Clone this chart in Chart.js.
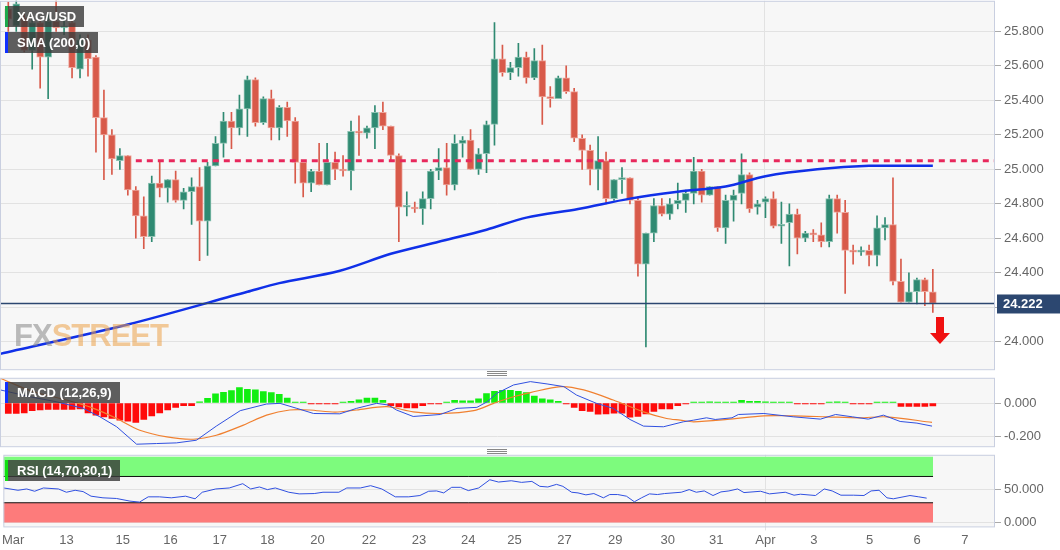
<!DOCTYPE html>
<html><head><meta charset="utf-8">
<script src="https://cdn.jsdelivr.net/npm/chart.js@4.4.1/dist/chart.umd.min.js"></script>
<style>
body{margin:0;background:#fff;width:1060px;height:550px;overflow:hidden;font-family:"Liberation Sans",Arial,sans-serif;position:relative}
.pane{position:absolute;left:0;width:1060px}
.tag{position:absolute;background:rgba(60,60,60,0.82);color:#fff;font-weight:bold;font-size:13px;line-height:21px;padding:0 8px 0 12px;z-index:5}
.tag i{position:absolute;left:0;top:0;bottom:0;width:3px}
.grip{position:absolute;left:487px;width:20px;height:1px;background:#888;z-index:5}
</style></head><body>
<div class="pane" style="top:-10px;height:390px"><canvas id="c1"></canvas></div>
<div class="pane" style="top:367px;height:90px"><canvas id="c2"></canvas></div>
<div class="pane" style="top:444px;height:106px"><canvas id="c3"></canvas></div>
<div class="tag" style="left:5px;top:6px"><i style="background:#1ea84a"></i>XAG/USD</div>
<div class="tag" style="left:5px;top:32px"><i style="background:#1030ff"></i>SMA (200,0)</div>
<div class="tag" style="left:5px;top:382px"><i style="background:#1030ff"></i>MACD (12,26,9)</div>
<div class="tag" style="left:5px;top:460px"><i style="background:#10e010"></i>RSI (14,70,30,1)</div>
<div class="grip" style="top:371px"></div><div class="grip" style="top:373px"></div><div class="grip" style="top:375px"></div>
<div class="grip" style="top:449px"></div><div class="grip" style="top:451px"></div><div class="grip" style="top:453px"></div>
<div style="position:absolute;left:14px;top:318px;font-size:31px;font-weight:bold;letter-spacing:-1px;opacity:0.55;z-index:4"><span style="color:#888">FX</span><span style="color:#eda24a">STREET</span></div>
<svg style="position:absolute;left:929px;top:317px;z-index:5" width="22" height="28"><polygon points="7,0 15,0 15,16 21,16 11,27 1,16 7,16" fill="#f01010"/></svg>
<script>
const opens=[25.93,25.83,25.88,25.69,25.85,25.65,25.86,25.82,25.85,25.58,25.75,25.65,25.30,25.20,25.05,25.08,24.88,24.73,24.61,24.92,24.89,24.94,24.82,24.87,24.90,24.70,25.02,25.15,25.28,25.24,25.35,25.52,25.27,25.41,25.24,25.36,25.28,25.04,24.92,24.99,24.91,25.04,25.00,24.99,25.22,25.21,25.24,25.33,25.25,25.08,24.78,24.78,24.77,24.83,24.99,25.01,24.91,25.15,25.17,25.00,25.09,25.26,25.64,25.56,25.59,25.65,25.53,25.63,25.42,25.41,25.53,25.45,25.18,25.11,25.00,25.05,24.83,24.94,24.95,24.82,24.45,24.63,24.79,24.74,24.80,24.82,24.86,24.99,24.85,24.90,24.66,24.82,24.86,24.97,24.78,24.81,24.83,24.67,24.69,24.74,24.60,24.63,24.62,24.58,24.83,24.75,24.53,24.52,24.53,24.50,24.66,24.68,24.35,24.23,24.29,24.36,24.29];
const highs=[25.97,25.99,25.90,25.87,25.87,25.90,26.00,25.88,25.87,25.78,25.78,25.66,25.46,25.23,25.12,25.08,24.90,24.84,24.96,25.05,24.94,24.99,24.89,24.95,25.01,25.04,25.19,25.33,25.33,25.43,25.54,25.53,25.42,25.46,25.37,25.39,25.30,25.05,25.00,25.15,25.15,25.10,25.08,25.28,25.31,25.25,25.37,25.39,25.25,25.09,24.87,24.81,24.87,25.00,25.12,25.15,25.20,25.19,25.23,25.12,25.28,25.85,25.72,25.62,25.73,25.68,25.70,25.72,25.48,25.54,25.60,25.47,25.20,25.14,25.19,25.10,24.94,25.01,24.95,24.84,24.63,24.83,24.83,24.83,24.92,24.88,25.07,25.00,24.90,24.90,24.85,24.88,25.09,24.98,24.82,24.84,24.87,24.81,24.80,24.77,24.64,24.65,24.69,24.85,24.85,24.82,24.56,24.55,24.56,24.73,24.72,24.95,24.48,24.40,24.37,24.37,24.42];
const lows=[25.80,25.80,25.68,25.58,25.47,25.41,25.80,25.78,25.53,25.53,25.54,25.10,24.94,24.97,25.00,24.85,24.60,24.54,24.58,24.84,24.81,24.81,24.77,24.68,24.47,24.50,25.02,25.07,25.12,25.20,25.19,25.25,25.26,25.17,25.17,25.19,24.92,24.84,24.87,24.91,24.91,24.94,24.96,24.88,25.08,25.18,25.12,25.23,25.05,24.58,24.73,24.75,24.68,24.77,24.94,24.85,24.88,25.07,25.00,24.97,24.98,25.14,25.54,25.52,25.54,25.50,25.52,25.26,25.36,25.41,25.44,25.16,25.00,24.91,24.88,24.80,24.82,24.86,24.80,24.38,23.97,24.58,24.73,24.71,24.77,24.75,24.80,24.81,24.85,24.64,24.57,24.70,24.80,24.75,24.74,24.72,24.66,24.57,24.44,24.51,24.58,24.58,24.55,24.55,24.63,24.28,24.45,24.50,24.44,24.44,24.59,24.33,24.23,24.23,24.22,24.21,24.17];
const closes=[25.87,25.96,25.69,25.85,25.65,25.86,25.82,25.83,25.59,25.75,25.64,25.30,25.20,25.06,25.08,24.88,24.73,24.61,24.92,24.89,24.94,24.82,24.87,24.90,24.70,25.02,25.15,25.28,25.24,25.35,25.52,25.27,25.41,25.24,25.36,25.28,25.04,24.92,24.99,24.91,25.04,25.00,24.99,25.22,25.21,25.24,25.33,25.25,25.08,24.78,24.785,24.77,24.83,24.99,25.01,24.91,25.15,25.17,25.00,25.09,25.26,25.64,25.56,25.59,25.65,25.53,25.63,25.42,25.41,25.53,25.45,25.18,25.11,25.00,25.05,24.83,24.94,24.95,24.82,24.45,24.63,24.79,24.74,24.80,24.82,24.86,24.99,24.85,24.90,24.66,24.82,24.85,24.97,24.77,24.80,24.83,24.67,24.68,24.74,24.60,24.63,24.62,24.58,24.83,24.75,24.53,24.52,24.53,24.50,24.66,24.68,24.35,24.23,24.29,24.36,24.29,24.222];
const smaIdx=[-1,15,30,34,41.5,48,54,60,65,71.5,78,84,90,95,101.5,108,116];
const smaVal=[23.93,24.10,24.29,24.34,24.41,24.51,24.58,24.65,24.72,24.77,24.83,24.87,24.90,24.96,25.00,25.02,25.02];
const resistance=25.05, resistanceStart=16;
const lastPrice=24.222;
const hist=[-0.063,-0.063,-0.059,-0.046,-0.042,-0.038,-0.038,-0.038,-0.038,-0.036,-0.059,-0.073,-0.083,-0.093,-0.103,-0.109,-0.117,-0.099,-0.077,-0.059,-0.042,-0.026,-0.016,-0.016,0.008,0.028,0.055,0.065,0.075,0.093,0.083,0.079,0.069,0.063,0.053,0.030,0.004,0.002,-0.006,-0.006,-0.006,-0.006,0.004,0.01,0.02,0.03,0.03,0.016,-0.016,-0.024,-0.03,-0.03,-0.016,-0.006,-0.006,0.006,0.016,0.014,0.014,0.026,0.057,0.071,0.077,0.077,0.071,0.063,0.042,0.026,0.02,0.01,-0.006,-0.026,-0.046,-0.05,-0.067,-0.065,-0.061,-0.061,-0.085,-0.081,-0.065,-0.05,-0.036,-0.036,-0.016,-0.006,0.002,0.002,0.008,0.002,0.002,0.006,0.016,0.01,0.01,0.008,0.004,0.002,0.002,-0.004,-0.004,-0.006,-0.006,0.004,0.008,0.004,-0.004,-0.006,-0.006,0.002,0.006,0.002,-0.02,-0.02,-0.02,-0.02,-0.018];
const macdIdx=[-1,2.7,6,9.4,11.5,13.6,16.1,18.6,21.1,23.6,26.1,29.1,32.4,34.1,36.2,38.3,41.6,43.7,46.2,47.7,48.7,50.8,54.2,56.3,58.8,60.1,61.3,63.4,65.5,67.6,69.7,71.3,73.8,75.9,78,79.7,82.2,84.7,86,87.6,88.7,90.8,91.6,94.8,98.5,101.9,103.8,105.9,107.9,109.8,111.9,114,115.9];
const macdVal=[0.079,0.038,0.008,-0.032,-0.083,-0.143,-0.248,-0.244,-0.240,-0.224,-0.139,-0.046,-0.006,-0.002,-0.032,-0.063,-0.065,-0.032,-0.002,-0.012,-0.042,-0.081,-0.069,-0.032,-0.026,0.008,0.059,0.109,0.129,0.115,0.099,0.048,-0.002,-0.032,-0.099,-0.139,-0.143,-0.113,-0.103,-0.089,-0.099,-0.089,-0.069,-0.063,-0.083,-0.097,-0.069,-0.083,-0.097,-0.073,-0.111,-0.121,-0.139];
const sigIdx=[-1,3.1,7.3,10.7,13.6,16.5,19.9,23.2,26.1,29.5,32.4,35.3,37.8,41,43.7,47.5,50.8,54.2,58.4,60.9,63.4,65.5,69.3,72.2,75.9,79.7,82.6,84.3,86,90.2,94.8,98.5,102.7,106.8,110.2,115.9];
const sigVal=[0.149,0.069,0.018,-0.032,-0.093,-0.164,-0.204,-0.218,-0.194,-0.133,-0.073,-0.042,-0.042,-0.055,-0.042,-0.022,-0.053,-0.063,-0.046,-0.002,0.038,0.063,0.099,0.079,0.018,-0.053,-0.093,-0.103,-0.113,-0.099,-0.077,-0.077,-0.083,-0.089,-0.083,-0.117];
const rsiIdx=[-1,-0.2,0.8,1.9,2.9,4,5.9,6.9,8,9,10,11.5,13.2,14.9,16.1,17.2,18.6,20.1,21.9,23.1,24,25.7,27.4,29.1,30.1,31.2,32.2,33.2,34.9,36.2,38.1,39.2,41.2,42.2,43.9,45.2,46.6,48.3,50,51.4,52.5,53.5,54.4,55.4,56.5,57.5,58.8,60.2,61.3,62.9,64.2,65.5,66.5,67.5,68.6,69.4,70.5,71.3,72.3,73.3,74.5,75.3,76.3,77.4,78.4,79.3,80.3,81.3,82.2,84.3,85.3,86.2,87.2,88.3,89.3,90.3,91.4,92.2,94.3,95.4,97.4,98.5,99.3,101.2,102.3,103.3,104.4,106,107.3,108.2,109.2,110.2,111,113.1,114.2,115.2];
const rsiVal=[52.5,51,49,51,47.5,52.5,51,46,49,47,40,37.5,36.5,32.5,31,39,39,37.5,40,36,46,51,52.5,59,51,54,50,52.5,46,43.5,44,46,46,52.5,52.5,56,51,39,39,41,47.5,48,45,53.5,53.5,48.5,52.5,65,61.5,63.5,61,62.5,55,54,58,55,46,45,42,44,37.5,42.5,42.5,40,31.5,37.5,43.5,42.5,44,46,50,46,48,41,46.5,48,51,45.5,47.5,43.5,46,41.5,43,41,51,48,41.5,41.5,41,48,49,37.5,36,41,39,37];
const dayPos=[0.2,6.9,14,20,26.2,32.2,38.5,45,51.3,57.5,63.3,69.6,76,82.6,88.7,94.9,101,108,114,120];
const dayLbl=['Mar','13','15','16','17','18','20','22','23','24','25','27','29','30','31','Apr','3','5','6','7'];
const XMIN=-1.04, XMAX=123.8, LASTI=116;

const GREEN='#2f8a72', RED='#d85a4a', GRID='#e2e2e2', FRAME='#c9cfe0';
const idx=opens.map((_,i)=>i);
const up=idx.map(i=>closes[i]>=opens[i]);
const frame={id:'frame',beforeDraw(c){const a=c.chartArea,x=c.ctx;x.save();x.fillStyle='#f7f7f7';x.fillRect(a.left,a.top,a.right-a.left,a.bottom-a.top);x.restore();},
 afterDraw(c){const a=c.chartArea,x=c.ctx;x.save();x.strokeStyle=FRAME;x.lineWidth=1;x.strokeRect(a.left+0.5,a.top+0.5,a.right-a.left-1,a.bottom-a.top);x.restore();}};
function xAxis(labels){return {type:'linear',min:XMIN,max:XMAX,offset:false,
  afterBuildTicks(s){s.ticks=dayPos.map(v=>({value:v}));},
  grid:{offset:false,drawTicks:!!labels,tickLength:4,color:(ctx)=>ctx.tick&&ctx.tick.value===94.9?GRID:'rgba(0,0,0,0)'},
  border:{display:false},
  ticks:{display:!!labels,autoSkip:false,maxRotation:0,color:'#666',font:{family:'Liberation Sans',size:13},padding:2,
    callback:(v)=>{const k=dayPos.indexOf(v);return k>=0?dayLbl[k]:'';}}};}
function yAxis(min,max,ticks,fmt){return {position:'right',min,max,
  afterBuildTicks(s){s.ticks=ticks.map(v=>({value:v}));},
  afterFit(s){s.width=65;},
  grid:{color:GRID,tickLength:6,tickColor:'#aaa'},border:{display:false},
  ticks:{color:'#666',font:{family:'Liberation Sans',size:13},padding:3,callback:fmt}};}
const baseOpts={responsive:true,maintainAspectRatio:false,animation:false,plugins:{legend:{display:false},tooltip:{enabled:false}}};

const priceTicks=[24.0,24.2,24.4,24.6,24.8,25.0,25.2,25.4,25.6,25.8];
const priceTag={id:'ptag',afterDraw(c){const y=c.scales.y.getPixelForValue(lastPrice),x=c.ctx,l=c.chartArea.right+2;
 x.save();x.fillStyle='#2c4770';x.fillRect(l,y-9,64,19);x.fillStyle='#fff';x.font='bold 13px "Liberation Sans"';x.textBaseline='middle';x.fillText(lastPrice.toFixed(3),l+6,y+1);x.restore();}};
new Chart(document.getElementById('c1'),{type:'bar',
 data:{datasets:[
  {type:'line',data:[{x:XMIN,y:lastPrice},{x:XMAX,y:lastPrice}],borderColor:'#2c4770',borderWidth:1.3,pointRadius:0,order:0},
  {type:'line',data:[{x:resistanceStart,y:resistance},{x:XMAX,y:resistance}],borderColor:'#e8285c',borderWidth:3,borderDash:[6,5],pointRadius:0,order:1},
  {type:'line',data:smaIdx.map((v,i)=>({x:v,y:smaVal[i]})),borderColor:'#1030e8',borderWidth:2.5,pointRadius:0,tension:0.3,order:1},
  {data:idx.map(i=>({x:i,y:[Math.min(opens[i],closes[i]),Math.max(opens[i],closes[i])]})),backgroundColor:idx.map(i=>up[i]?GREEN:RED),
   borderColor:idx.map(i=>up[i]?'#8cc2b2':'#eea69c'),borderWidth:1,borderSkipped:false,barThickness:7,minBarLength:2,grouped:false,order:2},
  {data:idx.map(i=>({x:i,y:[lows[i],highs[i]]})),backgroundColor:idx.map(i=>up[i]?GREEN:RED),barThickness:1,grouped:false,order:3}
 ]},
 options:{...baseOpts,layout:{padding:{top:2,bottom:2}},scales:{x:xAxis(false),y:yAxis(23.841,25.977,priceTicks,v=>v.toFixed(3))}},
 plugins:[frame,priceTag]});

new Chart(document.getElementById('c2'),{type:'bar',
 data:{datasets:[
  {type:'line',data:macdIdx.map((v,i)=>({x:v,y:macdVal[i]})),borderColor:'#3050e0',borderWidth:1,pointRadius:0,order:0},
  {type:'line',data:sigIdx.map((v,i)=>({x:v,y:sigVal[i]})),borderColor:'#f08030',borderWidth:1.2,pointRadius:0,tension:0.3,order:1},
  {data:hist.map((v,i)=>({x:i,y:v})),backgroundColor:hist.map(v=>v>=0?'#11ee11':'#ff0a0a'),barThickness:6,minBarLength:1,order:2}
 ]},
 options:{...baseOpts,layout:{padding:{top:2,bottom:2}},scales:{x:xAxis(false),y:yAxis(-0.26,0.152,[-0.2,0],v=>v.toFixed(3))}},
 plugins:[frame]});

new Chart(document.getElementById('c3'),{type:'line',
 data:{datasets:[
  {data:rsiIdx.map((v,i)=>({x:v,y:rsiVal[i]})),borderColor:'#3050e0',borderWidth:1,pointRadius:0,order:0},
  {data:[{x:XMIN,y:100},{x:LASTI,y:100}],borderColor:'rgba(0,0,0,0)',pointRadius:0,fill:false,order:5},
  {data:[{x:XMIN,y:70},{x:LASTI,y:70}],borderColor:'#111',borderWidth:1,pointRadius:0,fill:'-1',backgroundColor:'#7dfb7d',order:4},
  {data:[{x:XMIN,y:30},{x:LASTI,y:30}],borderColor:'#111',borderWidth:1,pointRadius:0,fill:{value:0},backgroundColor:'#fd7b7b',order:3}
 ]},
 options:{...baseOpts,layout:{padding:{top:2}},scales:{x:xAxis(true),y:yAxis(-6,103,[0,50],v=>v.toFixed(3))}},
 plugins:[frame]});
</script></body></html>
